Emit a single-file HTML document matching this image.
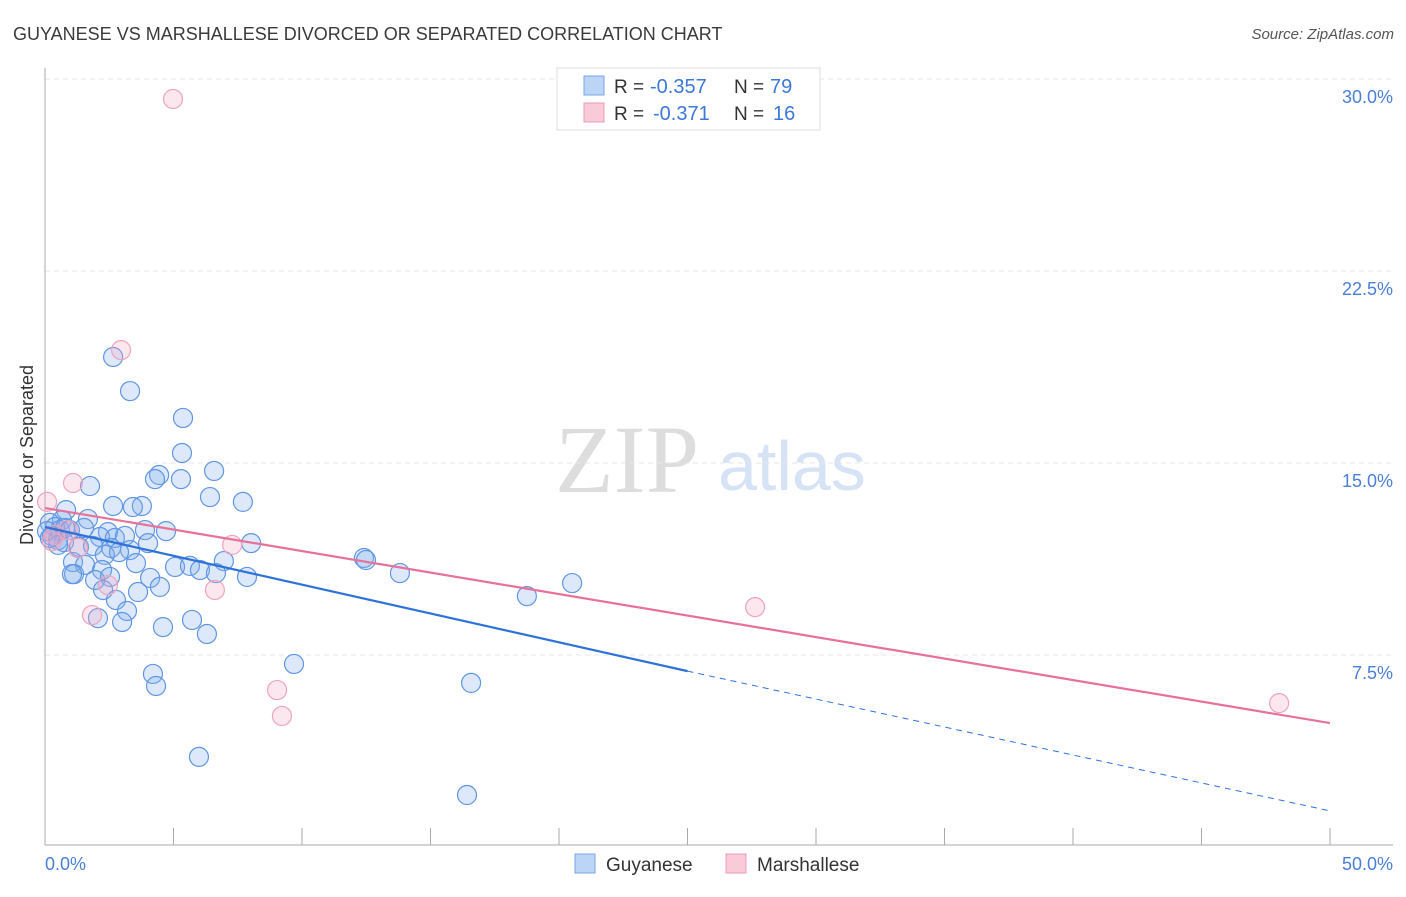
<!DOCTYPE html>
<html><head><meta charset="utf-8"><style>
body{margin:0;background:#fff;font-family:"Liberation Sans",sans-serif}
svg text{font-family:"Liberation Sans",sans-serif}
</style></head><body>
<svg id="c" width="1406" height="892">
<text x="13" y="40" font-size="18" fill="#3a3a3a">GUYANESE VS MARSHALLESE DIVORCED OR SEPARATED CORRELATION CHART</text>
<text x="1394" y="39" font-size="15" fill="#555" font-style="italic" text-anchor="end">Source: ZipAtlas.com</text>
<text transform="translate(33,455) rotate(-90)" font-size="18" fill="#333" text-anchor="middle">Divorced or Separated</text>
<text x="555" y="492" font-size="96" fill="#ddd" style="font-family:'Liberation Serif',serif">ZIP</text>
<text x="718" y="490" font-size="70" fill="#d6e3f5">atlas</text>
<g id="grid"></g><g id="pts"></g><g id="lines"></g>
<g>
<rect x="557" y="68" width="263" height="62" fill="#fff" stroke="#ddd"/>
<rect x="584" y="76" width="20" height="19" fill="#bcd4f6" stroke="#7aa6e6"/>
<rect x="584" y="103" width="20" height="19" fill="#f9cad8" stroke="#ec9ab5"/>
<text x="614" y="93" font-size="19" fill="#333">R =</text>
<text x="650" y="93" font-size="20" fill="#3b78d8">-0.357</text>
<text x="734" y="93" font-size="19" fill="#333">N =</text>
<text x="770" y="93" font-size="20" fill="#3b78d8">79</text>
<text x="614" y="120" font-size="19" fill="#333">R =</text>
<text x="653" y="120" font-size="20" fill="#3b78d8">-0.371</text>
<text x="734" y="120" font-size="19" fill="#333">N =</text>
<text x="773" y="120" font-size="20" fill="#3b78d8">16</text>
</g>
<g>
<rect x="575" y="854" width="20" height="19" fill="#bcd4f6" stroke="#7aa6e6"/>
<text x="606" y="871" font-size="19" fill="#333">Guyanese</text>
<rect x="726" y="854" width="20" height="19" fill="#f9cad8" stroke="#ec9ab5"/>
<text x="757" y="871" font-size="19" fill="#333">Marshallese</text>
</g>
</svg>
<script>
const yTicks=[7.5,15,22.5,30];
const yTickLabels=["7.5%","15.0%","22.5%","30.0%"];
const xTickLabels=["0.0%","50.0%"];
const guyX=[2.65,3.31,5.37,5.33,4.44,4.28,5.29,6.58,6.42,7.70,1.75,2.65,3.77,3.42,0.82,0.66,1.67,0.19,0.39,0.08,0.58,0.78,0.97,1.52,2.45,3.89,4.71,0.27,0.51,0.74,2.14,2.72,3.11,1.32,1.87,2.57,3.31,4.01,8.02,0.51,2.33,2.88,5.06,5.64,6.03,6.96,12.41,12.49,1.09,1.56,2.22,3.54,1.13,1.05,1.95,2.53,4.09,6.65,7.86,13.81,20.51,18.75,2.26,2.76,3.62,4.47,3.19,2.06,3.00,4.59,5.72,6.30,9.69,4.20,4.32,16.58,5.99,16.42,0.19];
const guyY=[19.14,17.81,16.76,15.39,14.53,14.37,14.37,14.69,13.67,13.48,14.10,13.32,13.32,13.28,13.16,12.77,12.81,12.66,12.50,12.34,12.38,12.46,12.38,12.46,12.30,12.38,12.34,12.15,11.99,11.91,12.11,12.07,12.15,11.72,11.76,11.68,11.60,11.87,11.87,11.80,11.41,11.52,10.94,10.98,10.82,11.17,11.29,11.21,11.13,11.02,10.82,11.09,10.66,10.66,10.43,10.55,10.51,10.70,10.55,10.70,10.31,9.80,10.04,9.65,9.96,10.16,9.22,8.94,8.79,8.59,8.87,8.32,7.15,6.76,6.29,6.41,3.52,2.03,12.07];
const marX=[4.98,2.96,0.08,1.09,0.89,0.39,1.28,7.28,2.45,1.83,6.61,9.03,9.22,27.63,48.02,0.27];
const marY=[29.22,19.41,13.48,14.22,12.38,12.19,11.68,11.80,10.23,9.06,10.04,6.13,5.12,9.37,5.62,11.95];
const guyTrend=[12.50,6.87,1.41];
const marTrend=[13.24,4.84];
const NS="http://www.w3.org/2000/svg";
const sx=v=>45+v/50*1285, sy=v=>847-v/30*768;
function mk(t,a,p){const e=document.createElementNS(NS,t);for(const k in a)e.setAttribute(k,a[k]);p.appendChild(e);return e;}
const grid=document.getElementById('grid');
yTicks.forEach((t,i)=>{
 const l=mk('line',{x1:45,x2:1393,y1:sy(t),y2:sy(t),stroke:'#e6e6e6','stroke-dasharray':'5,4'},grid);
 
 
 const tx=mk('text',{x:1393,y:sy(t)+24,'font-size':18,fill:'#4a7fd6','text-anchor':'end'},grid);
 tx.textContent=yTickLabels[i];
 
 
});
const ax=mk('line',{x1:45,x2:45,y1:68,y2:845,stroke:'#aaa'},grid);


const bx=mk('line',{x1:45,x2:1393,y1:845,y2:845,stroke:'#aaa'},grid);


for(let i=0;i<=10;i++){const tk=mk('line',{x1:sx(i*5),x2:sx(i*5),y1:828,y2:845,stroke:'#aaa'},grid);
 
 }
[[0,'start',45],[50,'end',1393]].forEach((d,i)=>{const t=mk('text',{x:d[2],y:870,'font-size':18,fill:'#4a7fd6','text-anchor':d[1]},grid);t.textContent=xTickLabels[i];
 
 });
const pts=document.getElementById('pts');
guyX.forEach((x,i)=>{const c=mk('circle',{cx:sx(x),cy:sy(guyY[i]),r:9.5,fill:'rgba(130,172,238,0.27)',stroke:'#6096e2','stroke-width':1.2},pts);
 
 });
marX.forEach((x,i)=>{const c=mk('circle',{cx:sx(x),cy:sy(marY[i]),r:9.5,fill:'rgba(245,165,195,0.27)',stroke:'#eea4bd','stroke-width':1.2},pts);
 
 });
const ln=document.getElementById('lines');
const t1=mk('line',{x1:sx(0),y1:sy(guyTrend[0]),x2:sx(25),y2:sy(guyTrend[1]),stroke:'#2e72d9','stroke-width':2.2},ln);


const t2=mk('line',{x1:sx(25),y1:sy(guyTrend[1]),x2:sx(50),y2:sy(guyTrend[2]),stroke:'#2e72d9','stroke-width':1,'stroke-dasharray':'6,5'},ln);


const t3=mk('line',{x1:sx(0),y1:sy(marTrend[0]),x2:sx(50),y2:sy(marTrend[1]),stroke:'#e8719a','stroke-width':2.2},ln);


</script>
</body></html>
